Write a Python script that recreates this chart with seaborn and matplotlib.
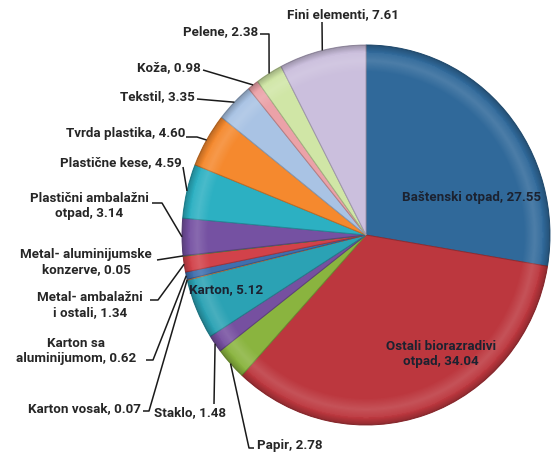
import numpy as np
import matplotlib
matplotlib.use("Agg")
import matplotlib.pyplot as plt
from matplotlib.patches import Circle
import seaborn as sns

# Waste composition (%), listed clockwise from 12 o'clock
categories = [
    "Baštenski otpad", "Ostali biorazradivi\notpad", "Papir", "Staklo",
    "Karton", "Karton vosak", "Karton sa\naluminijumom", "Metal- ambalažni\ni ostali",
    "Metal- aluminijumske\nkonzerve", "Plastični ambalažni\notpad", "Plastične kese",
    "Tvrda plastika", "Tekstil", "Koža", "Pelene", "Fini elementi",
]
shares = [27.55, 34.04, 2.78, 1.48, 5.12, 0.07, 0.62, 1.34,
          0.05, 3.14, 4.59, 4.60, 3.35, 0.98, 2.38, 7.61]
slice_colors = [
    "#30699a", "#bc373e", "#8ab43f", "#7650a0",
    "#2ba2b4", "#f08a3c", "#3f6fae", "#d2424a",
    "#7a9a3a", "#7551a2", "#2cb0c2", "#f5892e",
    "#a9c3e4", "#eba2a8", "#d0e6a6", "#cbbfdd",
]

W, H = 555, 457
CX, CY, RX, RY = 366, 235, 184, 190   # pie centre / radii in pixels

sns.set_theme(style="white")
plt.rcParams["font.family"] = ["Roboto", "DejaVu Sans"]

fig = plt.figure(figsize=(W / 100, H / 100), dpi=100)
fig.patch.set_facecolor("white")

# pie axes sized so the unit circle spans the pie ellipse
pie_ax = fig.add_axes([(CX - RX) / W, (H - CY - RY) / H, 2 * RX / W, 2 * RY / H])

palette = sns.color_palette(slice_colors)
edge_cols = [tuple(np.array(c) * 0.78) for c in palette]
wedges, _ = pie_ax.pie(shares, colors=palette, startangle=90, counterclock=False,
                       radius=1, frame=False, wedgeprops=dict(linewidth=0.7))
for w, ec in zip(wedges, edge_cols):
    w.set_edgecolor(ec)
pie_ax.set_xlim(-1, 1)
pie_ax.set_ylim(-1, 1)
pie_ax.set_aspect("auto")
pie_ax.axis("off")

# bevel: soft light band near the rim, slightly darker outer edge
n = 400
yy, xx = np.mgrid[-1:1:n * 1j, -1:1:n * 1j]
rr = np.hypot(xx, yy)
rgba = np.zeros((n, n, 4))
hi = np.clip(1 - np.abs(rr - 0.92) / 0.06, 0, 1) * 0.14
dark = np.clip((rr - 0.965) / 0.035, 0, 1) * 0.22
rgba[..., :3] = np.where((dark > 0)[..., None], 0.0, 1.0)
rgba[..., 3] = np.where(dark > 0, dark, hi)
img = pie_ax.imshow(rgba, extent=(-1, 1, -1, 1), origin="lower",
                    interpolation="bilinear", zorder=3, aspect="auto")
img.set_clip_path(Circle((0, 0), 1, transform=pie_ax.transData))

# pixel-space overlay for labels and leader lines, drawn above the pie
lab = fig.add_axes([0, 0, 1, 1])
lab.set_zorder(10)
lab.patch.set_alpha(0)
lab.set_xlim(0, W)
lab.set_ylim(H, 0)
lab.axis("off")

# rim anchor of each slice (pixel coords)
total = sum(shares)
cum = np.cumsum([0] + shares[:-1])
mids = 90 - (cum + np.array(shares) / 2) / total * 360
anchors = [(CX + RX * np.cos(np.radians(a)), CY - RY * np.sin(np.radians(a))) for a in mids]

txt = dict(fontsize=9.6, fontweight="bold", color="#262626")
inside = dict(fontsize=9.6, fontweight="bold", color="#1c2230")

# label placement: (x, y, ha, leader elbow points)
layout = {
    "Baštenski otpad": (472, 198, "center", None),
    "Ostali biorazradivi\notpad": (441, 354, "center", None),
    "Karton": (226, 290, "center", None),
    "Papir": (257, 446, "left", [(254, 448), (249, 448)]),
    "Staklo": (154, 413, "left", [(214, 404)]),
    "Karton vosak": (141, 409, "right", [(143, 411), (149, 411)]),
    "Karton sa\naluminijumom": (76, 351, "center", [(146, 360), (153, 360)]),
    "Metal- ambalažni\ni ostali": (90, 305, "center", [(150, 300), (158, 300)]),
    "Metal- aluminijumske\nkonzerve": (86, 262, "center", [(157, 260)]),
    "Plastični ambalažni\notpad": (89, 206, "center", [(152, 203), (162, 203)]),
    "Plastične kese": (182, 163, "right", [(183, 167)]),
    "Tvrda plastika": (185, 133, "right", [(186, 137), (197, 137)]),
    "Tekstil": (195, 97, "right", [(197, 99)]),
    "Koža": (201, 68, "right", [(203, 70)]),
    "Pelene": (258, 32, "right", [(260, 34), (269, 34)]),
    "Fini elementi": (343, 15, "center", [(322, 22)]),
}

for name, val, anc in zip(categories, shares, anchors):
    x, y, ha, elbow = layout[name]
    label = f"{name}, {val:.2f}"
    style = inside if elbow is None else txt
    lab.text(x, y, label, ha=ha, va="center", multialignment="center",
             linespacing=1.15, zorder=6, **style)
    if elbow is not None:
        pts = np.array(elbow + [anc])
        lab.plot(pts[:, 0], pts[:, 1], color="#1a1a1a", lw=1.1, zorder=5,
                 solid_capstyle="butt")

fig.savefig("out.png", dpi=100, facecolor="white")
